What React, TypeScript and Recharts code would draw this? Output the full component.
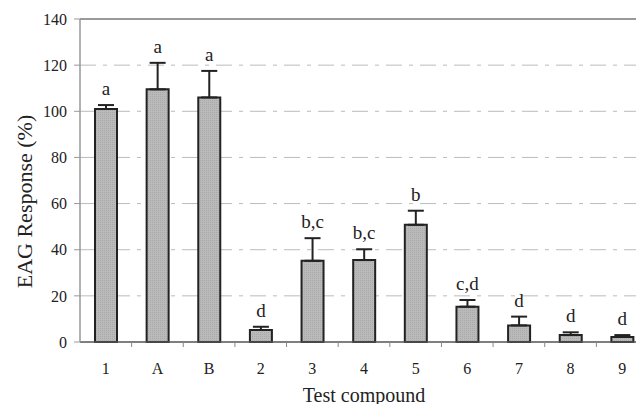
import React from "react";
import {
  Bar,
  BarChart,
  CartesianGrid,
  ErrorBar,
  LabelList,
  XAxis,
  YAxis,
} from "recharts";

const compounds = ["1", "A", "B", "2", "3", "4", "5", "6", "7", "8", "9"];
const responses = [101, 109.5, 106, 5.2, 35.2, 35.5, 50.8, 15.3, 7.2, 3.0, 2.2];
const errors = [1.7, 11.5, 11.5, 1.4, 9.8, 4.7, 6.1, 2.9, 3.8, 1.2, 0.8];
const groups = ["a", "a", "a", "d", "b,c", "b,c", "b", "c,d", "d", "d", "d"];
const yTicks = [0, 20, 40, 60, 80, 100, 120, 140];
const gridValues = [20, 40, 60, 80, 100, 120];

const data = compounds.map((name, i) => ({
  name,
  value: responses[i],
  err: [0, errors[i]],
  group: groups[i],
}));

const FONT = '"Liberation Serif", "Times New Roman", serif';

// category boundary ticks, like the original figure
const BoundaryTick = (props: any) => {
  const { x, y, payload, index } = props;
  const half = payload.offset || 0;
  return (
    <g>
      {index > 0 && (
        <line x1={x - half} x2={x - half} y1={y - 8} y2={y - 3} stroke="#888" strokeWidth={1} />
      )}
      <text x={x} y={y + 24} textAnchor="middle" fontFamily={FONT} fontSize={16} fill="#222">
        {payload.value}
      </text>
    </g>
  );
};

// letter groups sit above the error bar cap
const GroupLabel = (props: any) => {
  const { x, y, width, height, value, index } = props;
  const perUnit = responses[index] ? height / responses[index] : 0;
  const top = y - errors[index] * perUnit;
  return (
    <text x={x + width / 2} y={top - 10} textAnchor="middle" fontFamily={FONT} fontSize={19} fill="#222">
      {value}
    </text>
  );
};

const YTitle = (props: any) => {
  const { viewBox } = props;
  const cx = 24;
  const cy = viewBox.y + viewBox.height / 2 + 21;
  return (
    <text
      x={cx}
      y={cy}
      transform={`rotate(-90 ${cx} ${cy})`}
      textAnchor="middle"
      dominantBaseline="central"
      fontFamily={FONT}
      fontSize={22}
      fill="#222"
    >
      EAG Response (%)
    </text>
  );
};

export default function App() {
  return (
    <div style={{ margin: -8, width: 644, height: 412, overflow: "hidden", background: "#fff" }}>
      <BarChart
        width={660}
        height={412}
        data={data}
        margin={{ top: 19, right: 12, bottom: 40, left: 0 }}
        barSize={22}
      >
        <defs>
          <pattern id="dots" width="2" height="2" patternUnits="userSpaceOnUse">
            <rect width="2" height="2" fill="#bababa" />
            <rect width="1" height="1" fill="#a9a9a9" />
          </pattern>
        </defs>
        <CartesianGrid
          vertical={false}
          stroke="#bbb"
          strokeDasharray="16 7 4 7"
          horizontalValues={gridValues}
        />
        <XAxis
          dataKey="name"
          height={30}
          axisLine={{ stroke: "#555", strokeWidth: 1.5 }}
          tickLine={false}
          tick={<BoundaryTick />}
          interval={0}
          label={{
            value: "Test compound",
            position: "bottom",
            offset: 16,
            style: { fontFamily: FONT, fontSize: 20, fill: "#222" },
          }}
        />
        <YAxis
          width={80}
          domain={[0, 140]}
          ticks={yTicks}
          interval={0}
          axisLine={{ stroke: "#999", strokeWidth: 1.5 }}
          tickLine={{ stroke: "#999" }}
          tickSize={6}
          tickMargin={7}
          tick={{ fontFamily: FONT, fontSize: 16, fill: "#222" }}
          label={<YTitle />}
        />
        <Bar
          dataKey="value"
          fill="url(#dots)"
          stroke="#222"
          strokeWidth={2}
          isAnimationActive={false}
        >
          <ErrorBar dataKey="err" width={8} stroke="#222" strokeWidth={2} direction="y" />
          <LabelList dataKey="group" content={<GroupLabel />} />
        </Bar>
        <line x1={80} x2={660} y1={19} y2={19} stroke="#999" strokeWidth={2} />
      </BarChart>
    </div>
  );
}
